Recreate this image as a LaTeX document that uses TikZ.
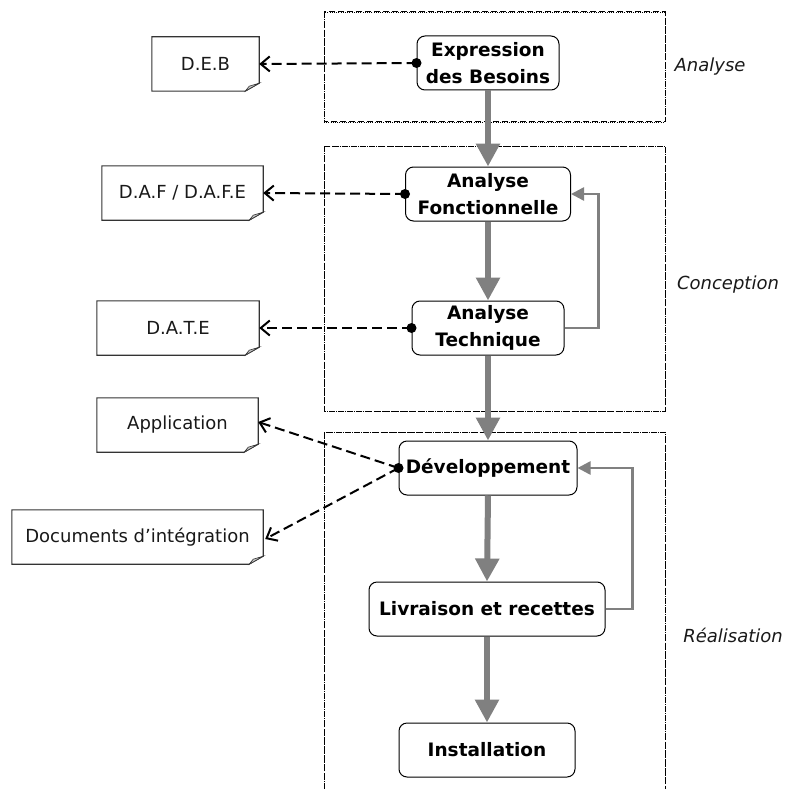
\documentclass[tikz,border=0pt]{standalone}
\usepackage{fontspec}
\setmainfont{DejaVu Sans}
\usetikzlibrary{arrows.meta}

\definecolor{flowgray}{HTML}{808080}
\definecolor{docline}{HTML}{333333}
\definecolor{foldgray}{HTML}{C8C8C8}

% Document symbol: box with a folded lower-right corner
\newcommand\docframe[1]{%
  \path (#1.north west) coordinate (nw) (#1.south east) coordinate (se);
  \draw[docline, line width=1.1pt, fill=white]
    (nw) -- (nw -| se) -- ([yshift=8pt]se) -- ([xshift=-14pt]se) -- (nw |- se) -- cycle;
  \filldraw[draw=docline, fill=foldgray, line width=0.6pt]
    ([yshift=8pt]se) -- ([xshift=-14pt]se) -- ([xshift=-10pt, yshift=5pt]se) -- cycle;
}

\tikzset{
  txt/.style={font=\fontsize{18}{26}\selectfont},
  proc/.style={txt, draw=black, line width=1pt, fill=white, rounded corners=8pt,
    align=center, minimum height=54pt, inner sep=2pt, font=\fontsize{18.5}{26.5}\selectfont\bfseries},
  docnode/.style={txt, text=black!90, minimum height=54pt, inner sep=0pt},
  phase/.style={txt, font=\fontsize{18}{26}\selectfont\itshape, text=black!90},
  frameA/.style={line width=1pt, dash pattern=on 6pt off 3pt},
  frameB/.style={line width=0.6pt, dash pattern=on 1pt off 1.2pt},
  flow/.style={draw=flowgray, line width=6pt, -{Triangle[length=23pt, width=23pt]}},
  back/.style={draw=flowgray, line width=2.5pt, -{Triangle[length=13pt, width=13pt]}},
  dep/.style={draw=black, line width=2pt, dash pattern=on 10pt off 5pt,
    -{Straight Barb[length=9pt, width=15pt, line width=2pt]}},
  hub/.style={fill=black},
}

\begin{document}
\begin{tikzpicture}[x=1pt, y=-1pt]
\useasboundingbox (0,0) rectangle (784,789);

% phase frames
\foreach \s in {frameA, frameB} {
  \draw[\s] (324,12) rectangle (665,122);
  \draw[\s] (324,146) rectangle (665,411);
  \draw[\s] (324,789) -- (324,432) -- (665,432) -- (665,789);
}

% phase labels
\node[phase] (lanalyse) at (710,67) {Analyse};
\node[phase] (lconception) at (728,285) {Conception};
\node[phase] (lrealisation) at (733,635) {Réalisation};

% process steps
\node[proc, minimum width=142pt] (exp) at (488,63) {Expression\\des Besoins};
\node[proc, minimum width=165pt] (af) at (488,194) {Analyse\\Fonctionnelle};
\node[proc, minimum width=152pt] (at) at (488,328) {Analyse\\Technique};
\node[proc, minimum width=178pt] (dev) at (488,468) {Développement};
\node[proc, minimum width=236pt] (liv) at (487,609) {Livraison et recettes};
\node[proc, minimum width=176pt] (inst) at (487,750) {Installation};

% produced documents
\node[docnode, minimum width=107pt] (deb) at (205.5,64) {D.E.B};
\node[docnode, minimum width=161pt] (daf) at (182.5,193) {D.A.F / D.A.F.E};
\node[docnode, minimum width=162pt] (date) at (178,328) {D.A.T.E};
\node[docnode, minimum width=161pt] (app) at (177.5,425) {Application};
\node[docnode, minimum width=251pt] (dint) at (137.5,537) {Documents d’intégration};
\foreach \d in {deb, daf, date, app, dint} {\docframe{\d}}
\node[docnode, minimum width=107pt] at (205.5,64) {D.E.B};
\node[docnode, minimum width=161pt] at (182.5,193) {D.A.F / D.A.F.E};
\node[docnode, minimum width=162pt] at (178,328) {D.A.T.E};
\node[docnode, minimum width=161pt] at (177.5,425) {Application};
\node[docnode, minimum width=251pt] at (137.5,537) {Documents d’intégration};

% main flow
\draw[flow] (exp.south) -- (af.north);
\draw[flow] (af.south) -- (at.north);
\draw[flow] (at.south) -- (dev.north);
\draw[flow] (dev.south) -- (liv.north);
\draw[flow] (liv.south) -- (inst.north);

% iterations
\draw[back] (at.east) -- ++(34,0) |- (af.east);
\draw[back] (liv.east) -- ++(27,0) |- (dev.east);

% deliverables
\draw[dep] (exp.west) -- (deb.east);
\draw[dep] (af.west) -- (daf.east);
\draw[dep] (at.west) -- (date.east);
\draw[dep] (dev.west) -- ([yshift=3pt]app.east);
\draw[dep] (dev.west) -- ([xshift=2pt, yshift=-2pt]dint.east);
\foreach \n in {exp, af, at, dev} {\fill[hub] (\n.west) circle (5pt);}
\end{tikzpicture}
\end{document}
